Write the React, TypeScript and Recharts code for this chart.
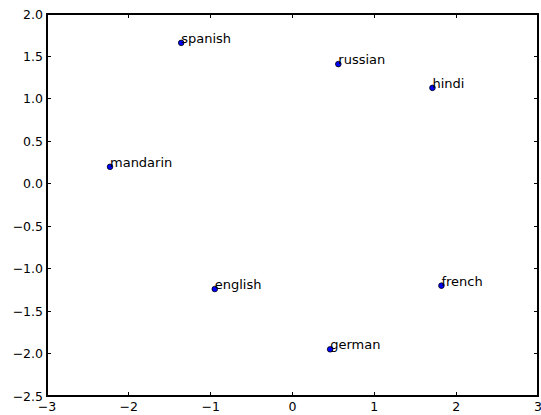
import React from "react";
import { ScatterChart, Scatter, XAxis, YAxis, ReferenceArea, ReferenceDot } from "recharts";

const languages = ["spanish", "russian", "hindi", "mandarin", "english", "french", "german"];
const xValues = [-1.36, 0.56, 1.71, -2.23, -0.95, 1.82, 0.46];
const yValues = [1.66, 1.41, 1.13, 0.2, -1.24, -1.2, -1.95];
const xTicks = [-3, -2, -1, 0, 1, 2, 3];
const yTicks = [-2.5, -2.0, -1.5, -1.0, -0.5, 0.0, 0.5, 1.0, 1.5, 2.0];
const xDomain = [-3, 3];
const yDomain = [-2.5, 2];

const data = languages.map((name, i) => ({ name, x: xValues[i], y: yValues[i] }));

const FONT = "DejaVu Sans";
const fmtNum = (v: number, d: number) => {
  const s = Math.abs(v).toFixed(d);
  return v < 0 ? "\u2212" + s : s;
};

const LeftTick = (p: any) => (
  <g>
    <line x1={p.x} x2={p.x + 4} y1={p.y} y2={p.y} stroke="#000" shapeRendering="crispEdges" />
    <text x={p.x - 4} y={p.y} dy={4.5} textAnchor="end" fontFamily={FONT} fontSize={12.5} fill="#000">
      {fmtNum(p.payload.value, 1)}
    </text>
  </g>
);
const BottomTick = (p: any) => (
  <g>
    <line x1={p.x} x2={p.x} y1={p.y} y2={p.y - 4} stroke="#000" shapeRendering="crispEdges" />
    <text x={p.x} y={p.y + 15} textAnchor="middle" fontFamily={FONT} fontSize={12.5} fill="#000">
      {fmtNum(p.payload.value, 0)}
    </text>
  </g>
);
const TopTickShape = (p: any) => (
  <line x1={p.cx} x2={p.cx} y1={p.cy} y2={p.cy + 4} stroke="#000" shapeRendering="crispEdges" />
);
const RightTickShape = (p: any) => (
  <line x1={p.cx} x2={p.cx - 4} y1={p.cy} y2={p.cy} stroke="#000" shapeRendering="crispEdges" />
);

const PointShape = (p: any) => (
  <g>
    <circle cx={p.cx} cy={p.cy} r={2.8} fill="#0000ff" stroke="#000" strokeWidth={0.8} />
    <text x={p.cx} y={p.cy} fontFamily={FONT} fontSize={13} fill="#000">
      {p.payload.name}
    </text>
  </g>
);

export default function App() {
  return (
    <div style={{ position: "fixed", top: 0, left: 0, width: 541, height: 415, background: "#fff" }}>
      <ScatterChart width={541} height={415} margin={{ top: 14, right: 3, bottom: 0, left: 0 }}>
        <XAxis
          dataKey="x"
          type="number"
          orientation="bottom"
          domain={xDomain}
          ticks={xTicks}
          height={19}
          tickSize={0}
          tickMargin={0}
          tickLine={false}
          axisLine={false}
          tick={<BottomTick />}
          allowDataOverflow
          interval={0}
        />
        <YAxis
          dataKey="y"
          type="number"
          orientation="left"
          domain={yDomain}
          ticks={yTicks}
          width={47}
          tickSize={0}
          tickMargin={0}
          tickLine={false}
          axisLine={false}
          tick={<LeftTick />}
          allowDataOverflow
          interval={0}
        />
        <ReferenceArea
          x1={xDomain[0]}
          x2={xDomain[1]}
          y1={yDomain[0]}
          y2={yDomain[1]}
          fill="none"
          fillOpacity={0}
          stroke="#000"
          strokeWidth={1.2}
          shapeRendering="crispEdges"
          ifOverflow="visible"
        />
        {xTicks.map((t) => (
          <ReferenceDot key={"t" + t} x={t} y={yDomain[1]} ifOverflow="visible" shape={<TopTickShape />} />
        ))}
        {yTicks.map((t) => (
          <ReferenceDot key={"r" + t} x={xDomain[1]} y={t} ifOverflow="visible" shape={<RightTickShape />} />
        ))}
        <Scatter data={data} isAnimationActive={false} shape={<PointShape />} />
      </ScatterChart>
    </div>
  );
}
